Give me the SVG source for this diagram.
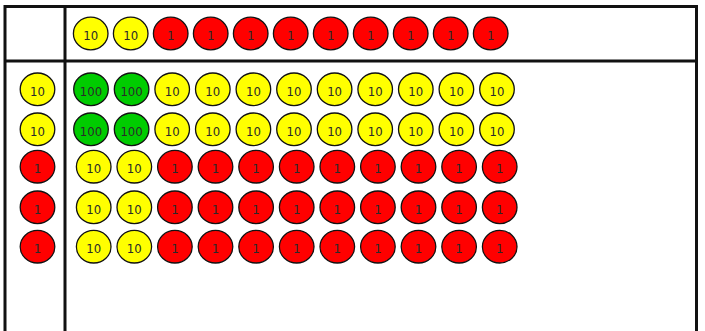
<svg xmlns="http://www.w3.org/2000/svg" width="705" height="331" viewBox="0 0 705 331">
<style>
.ln{stroke:#111;stroke-width:3;fill:none}
.c{stroke:#111;stroke-width:1.3}
.y{fill:#ffff00}.r{fill:#ff0000}.g{fill:#00cc00}
text{font-family:"DejaVu Sans Condensed","DejaVu Sans","Liberation Sans",sans-serif;font-size:13px;fill:#2a2a2a;text-anchor:middle}
</style>
<g id="grid">
<path class="ln" d="M5,331V6.5H696.5V331M5,61H696.5M65,6.5V331"/>
</g>
<g id="top">
<g><ellipse class="c y" cx="90.7" cy="33.5" rx="17.3" ry="16.3"/><text x="90.7" y="40">10</text></g>
<g><ellipse class="c y" cx="130.7" cy="33.5" rx="17.3" ry="16.3"/><text x="130.7" y="40">10</text></g>
<g><ellipse class="c r" cx="170.7" cy="33.5" rx="17.3" ry="16.3"/><text x="170.7" y="40">1</text></g>
<g><ellipse class="c r" cx="210.7" cy="33.5" rx="17.3" ry="16.3"/><text x="210.7" y="40">1</text></g>
<g><ellipse class="c r" cx="250.7" cy="33.5" rx="17.3" ry="16.3"/><text x="250.7" y="40">1</text></g>
<g><ellipse class="c r" cx="290.7" cy="33.5" rx="17.3" ry="16.3"/><text x="290.7" y="40">1</text></g>
<g><ellipse class="c r" cx="330.7" cy="33.5" rx="17.3" ry="16.3"/><text x="330.7" y="40">1</text></g>
<g><ellipse class="c r" cx="370.7" cy="33.5" rx="17.3" ry="16.3"/><text x="370.7" y="40">1</text></g>
<g><ellipse class="c r" cx="410.7" cy="33.5" rx="17.3" ry="16.3"/><text x="410.7" y="40">1</text></g>
<g><ellipse class="c r" cx="450.7" cy="33.5" rx="17.3" ry="16.3"/><text x="450.7" y="40">1</text></g>
<g><ellipse class="c r" cx="490.7" cy="33.5" rx="17.3" ry="16.3"/><text x="490.7" y="40">1</text></g>
</g>
<g id="left">
<g><ellipse class="c y" cx="37.5" cy="89.3" rx="17.3" ry="16.3"/><text x="37.5" y="95.8">10</text></g>
<g><ellipse class="c y" cx="37.5" cy="129.3" rx="17.3" ry="16.3"/><text x="37.5" y="135.8">10</text></g>
<g><ellipse class="c r" cx="37.5" cy="166.7" rx="17.3" ry="16.3"/><text x="37.5" y="173.2">1</text></g>
<g><ellipse class="c r" cx="37.5" cy="207.3" rx="17.3" ry="16.3"/><text x="37.5" y="213.8">1</text></g>
<g><ellipse class="c r" cx="37.5" cy="246.7" rx="17.3" ry="16.3"/><text x="37.5" y="253.2">1</text></g>
</g>
<g id="row1">
<g><ellipse class="c g" cx="91" cy="89.3" rx="17.3" ry="16.3"/><text x="91" y="95.8">100</text></g>
<g><ellipse class="c g" cx="131.6" cy="89.3" rx="17.3" ry="16.3"/><text x="131.6" y="95.8">100</text></g>
<g><ellipse class="c y" cx="172.2" cy="89.3" rx="17.3" ry="16.3"/><text x="172.2" y="95.8">10</text></g>
<g><ellipse class="c y" cx="212.8" cy="89.3" rx="17.3" ry="16.3"/><text x="212.8" y="95.8">10</text></g>
<g><ellipse class="c y" cx="253.4" cy="89.3" rx="17.3" ry="16.3"/><text x="253.4" y="95.8">10</text></g>
<g><ellipse class="c y" cx="294" cy="89.3" rx="17.3" ry="16.3"/><text x="294" y="95.8">10</text></g>
<g><ellipse class="c y" cx="334.6" cy="89.3" rx="17.3" ry="16.3"/><text x="334.6" y="95.8">10</text></g>
<g><ellipse class="c y" cx="375.2" cy="89.3" rx="17.3" ry="16.3"/><text x="375.2" y="95.8">10</text></g>
<g><ellipse class="c y" cx="415.8" cy="89.3" rx="17.3" ry="16.3"/><text x="415.8" y="95.8">10</text></g>
<g><ellipse class="c y" cx="456.4" cy="89.3" rx="17.3" ry="16.3"/><text x="456.4" y="95.8">10</text></g>
<g><ellipse class="c y" cx="497" cy="89.3" rx="17.3" ry="16.3"/><text x="497" y="95.8">10</text></g>
</g>
<g id="row2">
<g><ellipse class="c g" cx="91" cy="129.3" rx="17.3" ry="16.3"/><text x="91" y="135.8">100</text></g>
<g><ellipse class="c g" cx="131.6" cy="129.3" rx="17.3" ry="16.3"/><text x="131.6" y="135.8">100</text></g>
<g><ellipse class="c y" cx="172.2" cy="129.3" rx="17.3" ry="16.3"/><text x="172.2" y="135.8">10</text></g>
<g><ellipse class="c y" cx="212.8" cy="129.3" rx="17.3" ry="16.3"/><text x="212.8" y="135.8">10</text></g>
<g><ellipse class="c y" cx="253.4" cy="129.3" rx="17.3" ry="16.3"/><text x="253.4" y="135.8">10</text></g>
<g><ellipse class="c y" cx="294" cy="129.3" rx="17.3" ry="16.3"/><text x="294" y="135.8">10</text></g>
<g><ellipse class="c y" cx="334.6" cy="129.3" rx="17.3" ry="16.3"/><text x="334.6" y="135.8">10</text></g>
<g><ellipse class="c y" cx="375.2" cy="129.3" rx="17.3" ry="16.3"/><text x="375.2" y="135.8">10</text></g>
<g><ellipse class="c y" cx="415.8" cy="129.3" rx="17.3" ry="16.3"/><text x="415.8" y="135.8">10</text></g>
<g><ellipse class="c y" cx="456.4" cy="129.3" rx="17.3" ry="16.3"/><text x="456.4" y="135.8">10</text></g>
<g><ellipse class="c y" cx="497" cy="129.3" rx="17.3" ry="16.3"/><text x="497" y="135.8">10</text></g>
</g>
<g id="row3">
<g><ellipse class="c y" cx="93.7" cy="166.7" rx="17.3" ry="16.3"/><text x="93.7" y="173.2">10</text></g>
<g><ellipse class="c y" cx="134.3" cy="166.7" rx="17.3" ry="16.3"/><text x="134.3" y="173.2">10</text></g>
<g><ellipse class="c r" cx="174.9" cy="166.7" rx="17.3" ry="16.3"/><text x="174.9" y="173.2">1</text></g>
<g><ellipse class="c r" cx="215.5" cy="166.7" rx="17.3" ry="16.3"/><text x="215.5" y="173.2">1</text></g>
<g><ellipse class="c r" cx="256.1" cy="166.7" rx="17.3" ry="16.3"/><text x="256.1" y="173.2">1</text></g>
<g><ellipse class="c r" cx="296.7" cy="166.7" rx="17.3" ry="16.3"/><text x="296.7" y="173.2">1</text></g>
<g><ellipse class="c r" cx="337.3" cy="166.7" rx="17.3" ry="16.3"/><text x="337.3" y="173.2">1</text></g>
<g><ellipse class="c r" cx="377.9" cy="166.7" rx="17.3" ry="16.3"/><text x="377.9" y="173.2">1</text></g>
<g><ellipse class="c r" cx="418.5" cy="166.7" rx="17.3" ry="16.3"/><text x="418.5" y="173.2">1</text></g>
<g><ellipse class="c r" cx="459.1" cy="166.7" rx="17.3" ry="16.3"/><text x="459.1" y="173.2">1</text></g>
<g><ellipse class="c r" cx="499.7" cy="166.7" rx="17.3" ry="16.3"/><text x="499.7" y="173.2">1</text></g>
</g>
<g id="row4">
<g><ellipse class="c y" cx="93.7" cy="207.3" rx="17.3" ry="16.3"/><text x="93.7" y="213.8">10</text></g>
<g><ellipse class="c y" cx="134.3" cy="207.3" rx="17.3" ry="16.3"/><text x="134.3" y="213.8">10</text></g>
<g><ellipse class="c r" cx="174.9" cy="207.3" rx="17.3" ry="16.3"/><text x="174.9" y="213.8">1</text></g>
<g><ellipse class="c r" cx="215.5" cy="207.3" rx="17.3" ry="16.3"/><text x="215.5" y="213.8">1</text></g>
<g><ellipse class="c r" cx="256.1" cy="207.3" rx="17.3" ry="16.3"/><text x="256.1" y="213.8">1</text></g>
<g><ellipse class="c r" cx="296.7" cy="207.3" rx="17.3" ry="16.3"/><text x="296.7" y="213.8">1</text></g>
<g><ellipse class="c r" cx="337.3" cy="207.3" rx="17.3" ry="16.3"/><text x="337.3" y="213.8">1</text></g>
<g><ellipse class="c r" cx="377.9" cy="207.3" rx="17.3" ry="16.3"/><text x="377.9" y="213.8">1</text></g>
<g><ellipse class="c r" cx="418.5" cy="207.3" rx="17.3" ry="16.3"/><text x="418.5" y="213.8">1</text></g>
<g><ellipse class="c r" cx="459.1" cy="207.3" rx="17.3" ry="16.3"/><text x="459.1" y="213.8">1</text></g>
<g><ellipse class="c r" cx="499.7" cy="207.3" rx="17.3" ry="16.3"/><text x="499.7" y="213.8">1</text></g>
</g>
<g id="row5">
<g><ellipse class="c y" cx="93.7" cy="246.7" rx="17.3" ry="16.3"/><text x="93.7" y="253.2">10</text></g>
<g><ellipse class="c y" cx="134.3" cy="246.7" rx="17.3" ry="16.3"/><text x="134.3" y="253.2">10</text></g>
<g><ellipse class="c r" cx="174.9" cy="246.7" rx="17.3" ry="16.3"/><text x="174.9" y="253.2">1</text></g>
<g><ellipse class="c r" cx="215.5" cy="246.7" rx="17.3" ry="16.3"/><text x="215.5" y="253.2">1</text></g>
<g><ellipse class="c r" cx="256.1" cy="246.7" rx="17.3" ry="16.3"/><text x="256.1" y="253.2">1</text></g>
<g><ellipse class="c r" cx="296.7" cy="246.7" rx="17.3" ry="16.3"/><text x="296.7" y="253.2">1</text></g>
<g><ellipse class="c r" cx="337.3" cy="246.7" rx="17.3" ry="16.3"/><text x="337.3" y="253.2">1</text></g>
<g><ellipse class="c r" cx="377.9" cy="246.7" rx="17.3" ry="16.3"/><text x="377.9" y="253.2">1</text></g>
<g><ellipse class="c r" cx="418.5" cy="246.7" rx="17.3" ry="16.3"/><text x="418.5" y="253.2">1</text></g>
<g><ellipse class="c r" cx="459.1" cy="246.7" rx="17.3" ry="16.3"/><text x="459.1" y="253.2">1</text></g>
<g><ellipse class="c r" cx="499.7" cy="246.7" rx="17.3" ry="16.3"/><text x="499.7" y="253.2">1</text></g>
</g>
</svg>
